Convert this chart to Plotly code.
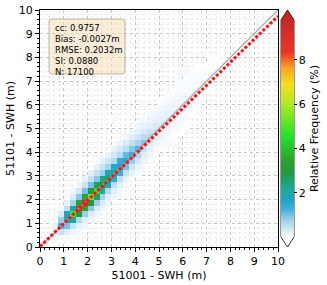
import plotly.graph_objects as go
import numpy as np

# ---------------- data ----------------
bin_width = 0.25
band_offsets = [-4, -3, -2, -1, 0, 1, 2, 3, 4]
band_start_bin = 2
band_rows = [
    [0, 0, 0, 0.08, 0.2, 0.15, 0.05, 0, 0],
    [0, 0, 0.06, 0.4, 1.3, 0.8, 0.25, 0.06, 0],
    [0, 0.05, 0.2, 1.0, 2.1, 1.8, 0.5, 0.15, 0.05],
    [0.03, 0.08, 0.4, 1.9, 4.9, 2.2, 0.7, 0.25, 0.08],
    [0.06, 0.15, 0.6, 3.1, 8.6, 3.3, 0.9, 0.35, 0.12],
    [0.08, 0.2, 0.8, 3.4, 9.4, 3.5, 1.0, 0.4, 0.15],
    [0.1, 0.25, 0.9, 3.0, 5.3, 3.0, 1.0, 0.45, 0.18],
    [0.1, 0.25, 0.8, 2.6, 4.6, 2.7, 0.9, 0.45, 0.18],
    [0.1, 0.25, 0.7, 2.2, 3.2, 2.3, 0.8, 0.4, 0.16],
    [0.09, 0.22, 0.6, 1.8, 2.6, 1.9, 0.7, 0.35, 0.15],
    [0.08, 0.2, 0.5, 1.5, 2.2, 1.6, 0.6, 0.32, 0.13],
    [0.07, 0.18, 0.45, 1.3, 1.8, 1.4, 0.55, 0.3, 0.12],
    [0.06, 0.15, 0.4, 1.0, 1.6, 1.1, 0.5, 0.25, 0.1],
    [0.05, 0.13, 0.35, 0.8, 1.4, 0.9, 0.45, 0.22, 0.09],
    [0.05, 0.12, 0.3, 0.6, 1.2, 0.7, 0.35, 0.18, 0.08],
    [0.04, 0.1, 0.22, 0.45, 0.9, 0.55, 0.28, 0.15, 0.07],
    [0.04, 0.08, 0.16, 0.3, 0.6, 0.4, 0.2, 0.12, 0.06],
    [0.03, 0.06, 0.12, 0.22, 0.4, 0.28, 0.16, 0.1, 0.05],
    [0.03, 0.05, 0.1, 0.16, 0.28, 0.2, 0.12, 0.08, 0.04],
    [0.02, 0.04, 0.08, 0.12, 0.2, 0.15, 0.1, 0.06, 0.04],
    [0.02, 0.03, 0.06, 0.1, 0.14, 0.12, 0.08, 0.05, 0.03],
    [0.01, 0.03, 0.05, 0.08, 0.11, 0.1, 0.06, 0.04, 0.03],
    [0.01, 0.02, 0.04, 0.06, 0.09, 0.08, 0.05, 0.03, 0.02],
    [0, 0.02, 0.03, 0.05, 0.07, 0.06, 0.04, 0.03, 0.02],
    [0, 0.01, 0.02, 0.04, 0.06, 0.05, 0.03, 0.02, 0.01],
    [0, 0, 0.02, 0.03, 0.05, 0.04, 0.03, 0.02, 0],
    [0, 0, 0.01, 0.02, 0.04, 0.03, 0.02, 0.01, 0],
    [0, 0, 0, 0.02, 0.03, 0.02, 0.01, 0, 0],
    [0, 0, 0, 0.01, 0.02, 0.02, 0.01, 0, 0],
]
# scattered faint cells (x bin centre, y bin centre, %)
extra_x = [2.625, 5.125, 5.875, 6.125, 6.625, 6.875, 8.375, 5.375, 5.625, 4.375, 3.125]
extra_y = [5.875, 7.625, 7.375, 7.375, 8.125, 8.125, 6.625, 4.375, 4.375, 6.125, 5.375]
extra_v = [0.06, 0.08, 0.06, 0.06, 0.05, 0.05, 0.04, 0.06, 0.05, 0.05, 0.05]

fit_slope = 0.972
fit_intercept = 0.02
stats_lines = ["cc: 0.9757", "Bias: -0.0027m", "RMSE: 0.2032m", "SI: 0.0880", "N: 17100"]
x_label = "51001 - SWH (m)"
y_label = "51101 - SWH (m)"
cbar_label = "Relative Frequency (%)"
cbar_ticks = [2, 4, 6, 8]
zmax = 9.8

# ---------------- build grid ----------------
nb = 40
centers = np.arange(nb) * bin_width + bin_width / 2
Z = np.full((nb, nb), np.nan)
for r, row in enumerate(band_rows):
    i = band_start_bin + r
    for off, v in zip(band_offsets, row):
        j = i + off
        if v > 0 and 0 <= j < nb:
            Z[j, i] = v
for xx, yy, v in zip(extra_x, extra_y, extra_v):
    Z[int(yy / bin_width), int(xx / bin_width)] = v

colorscale = [
    [0.0, "#ffffff"],
    [0.01, "#edf5fb"],
    [0.03, "#d6e9f6"],
    [0.08, "#9ccfee"],
    [0.13, "#3fb0dd"],
    [0.17, "#1aa5c8"],
    [0.22, "#1fa89a"],
    [0.30, "#239a3c"],
    [0.36, "#2aa52a"],
    [0.46, "#22e22a"],
    [0.61, "#a8ec20"],
    [0.70, "#f2e21e"],
    [0.78, "#f8a41e"],
    [0.85, "#ee3424"],
    [1.0, "#c8282a"],
]

W, H = 327, 285
L, R, T, B = 40, 49, 10, 38
pw, ph = W - L - R, H - T - B

def px2paper_x(px):
    return (px - L) / pw

def px2paper_y(py):
    return (H - B - py) / ph

cb_x0, cb_x1 = px2paper_x(281), px2paper_x(294)
cb_xm = (cb_x0 + cb_x1) / 2
cb_ytop, cb_ybot = px2paper_y(20), px2paper_y(237)

font = "DejaVu Sans"
fig = go.Figure()
fig.add_trace(go.Heatmap(
    x=centers, y=centers, z=Z, zmin=0, zmax=zmax, colorscale=colorscale,
    hoverongaps=False, zsmooth=False,
    colorbar=dict(
        x=cb_x0, xanchor="left", xpad=0, ypad=0, thickness=13,
        len=cb_ytop - cb_ybot, lenmode="fraction", y=(cb_ytop + cb_ybot) / 2, yanchor="middle",
        outlinewidth=0, tickvals=cbar_ticks, ticks="outside", ticklen=3, tickcolor="black",
        tickfont=dict(size=11, color="black", family=font),
        title=dict(text=cbar_label, side="right", font=dict(size=11, color="black", family=font)),
    ),
))
fig.add_trace(go.Scatter(x=[0, 10], y=[0, 10], mode="lines",
                         line=dict(color="#a0a0a0", width=1.2), hoverinfo="skip"))
fx = np.array([0, 10])
fig.add_trace(go.Scatter(x=fx, y=fit_slope * fx + fit_intercept, mode="lines",
                         line=dict(color="#ff1010", width=3, dash="3px,2px"), hoverinfo="skip"))

axis_common = dict(
    range=[0, 10], dtick=1, showline=True, mirror=True, linecolor="black", linewidth=1,
    ticks="outside", ticklen=4, tickcolor="black", showgrid=True, gridcolor="#c4c4c4",
    griddash="dot", gridwidth=0.8, zeroline=False, layer="above traces", automargin=False,
    tickfont=dict(size=11, color="black", family=font),
    minor=dict(dtick=0.2, ticks="outside", ticklen=2, tickcolor="black", showgrid=True,
               gridcolor="#ececec", griddash="dot", gridwidth=0.6),
)
fig.update_xaxes(**axis_common, title=dict(text=x_label, font=dict(size=11, color="black", family=font), standoff=4))
fig.update_yaxes(**axis_common, title=dict(text=y_label, font=dict(size=11, color="black", family=font), standoff=1))

# colorbar extension triangles + outline
shapes = [
    dict(type="path", xref="paper", yref="paper",
         path=f"M {cb_x0},{cb_ytop} L {cb_xm},{px2paper_y(10)} L {cb_x1},{cb_ytop} Z",
         fillcolor="#c8282a", line=dict(width=0)),
    dict(type="path", xref="paper", yref="paper",
         path=f"M {cb_x0},{cb_ybot} L {cb_xm},{px2paper_y(247)} L {cb_x1},{cb_ybot} Z",
         fillcolor="#ffffff", line=dict(width=0)),
    dict(type="path", xref="paper", yref="paper",
         path=(f"M {cb_x0},{cb_ytop} L {cb_xm},{px2paper_y(10)} L {cb_x1},{cb_ytop} "
               f"L {cb_x1},{cb_ybot} L {cb_xm},{px2paper_y(247)} L {cb_x0},{cb_ybot} Z"),
         line=dict(color="black", width=0.8)),
]
# rounded stats box (data coords)
bx0, bx1, by0, by1, rr = 0.38, 3.57, 7.30, 9.62, 0.13
shapes.append(dict(
    type="path", xref="x", yref="y",
    path=(f"M {bx0+rr},{by0} L {bx1-rr},{by0} Q {bx1},{by0} {bx1},{by0+rr} "
          f"L {bx1},{by1-rr} Q {bx1},{by1} {bx1-rr},{by1} L {bx0+rr},{by1} "
          f"Q {bx0},{by1} {bx0},{by1-rr} L {bx0},{by0+rr} Q {bx0},{by0} {bx0+rr},{by0} Z"),
    fillcolor="rgba(245,222,179,0.5)", line=dict(color="rgba(120,100,70,0.45)", width=1),
))

fig.add_annotation(x=0.55, y=9.55, xref="x", yref="y", xanchor="left", yanchor="top",
                   text="<br>".join(stats_lines), showarrow=False, align="left",
                   font=dict(size=8.5, color="black", family=font))

fig.update_layout(
    width=W, height=H, margin=dict(l=L, r=R, t=T, b=B, autoexpand=False),
    plot_bgcolor="white", paper_bgcolor="white", showlegend=False,
    shapes=shapes, font=dict(family=font),
)
fig.write_html("out.html", config={"displayModeBar": False},
               post_script="document.body.style.margin='0';document.body.style.overflow='hidden';")
